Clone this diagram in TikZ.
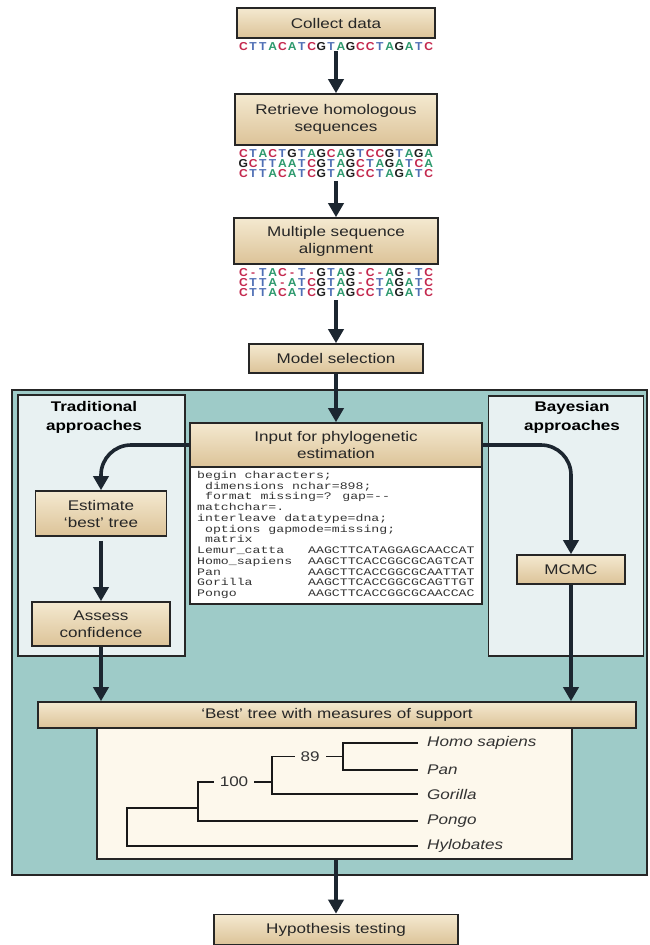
\documentclass[tikz,border=0pt]{standalone}
\usepackage{fontspec}
\usetikzlibrary{arrows.meta}
\newfontfamily\lab[FakeStretch=1.22]{Liberation Sans}
\newfontfamily\dnafont[FakeStretch=1.05]{Liberation Sans}
\newfontfamily\codefont[FakeStretch=1.32]{Liberation Mono}
\definecolor{cA}{HTML}{2E9A6E}
\definecolor{cC}{HTML}{C4284E}
\definecolor{cG}{HTML}{1E1E1E}
\definecolor{cT}{HTML}{4F6FB5}
\definecolor{boxtop}{HTML}{F4E9D0}
\definecolor{boxbot}{HTML}{DCC398}
\definecolor{edge}{HTML}{262626}
\definecolor{teal}{HTML}{9ECBC8}
\definecolor{pale}{HTML}{E8F1F2}
\definecolor{cream}{HTML}{FDF8EC}
\definecolor{arrowc}{HTML}{1C2630}
\makeatletter
\newcommand\dnarow[1]{\dna@loop#1\relax}
\def\dna@loop#1{\ifx#1\relax\else\dna@char#1\expandafter\dna@loop\fi}
\def\dna@char#1{\makebox[9.75pt]{\if#1-\textcolor{cC}{-}\else\textcolor{c#1}{#1}\fi}}
\makeatother
\tikzset{
  stepbox/.style={draw=edge, line width=1.6pt, top color=boxtop, bottom color=boxbot,
    font=\lab\fontsize{14}{17}\selectfont, align=center, inner sep=0pt, text=black!85},
  seqtext/.style={font=\dnafont\bfseries\fontsize{11.5}{10}\selectfont, align=center, inner sep=0pt},
  arr/.style={draw=arrowc, line width=3.6pt, -{Triangle[length=14pt,width=15pt]}},
  panel/.style={draw=edge, line width=1.5pt, fill=pale},
  grp/.style={font=\lab\bfseries\fontsize{14}{19}\selectfont, align=center, inner sep=0pt},
  branch/.style={line width=1.8pt, draw=black!90},
  leaf/.style={font=\lab\itshape\fontsize{14}{17}\selectfont, anchor=west, inner sep=0pt, text=black!80},
  support/.style={font=\lab\fontsize{14}{17}\selectfont, fill=cream, inner xsep=6pt, inner ysep=1pt, text=black!80}
}
\begin{document}
\begin{tikzpicture}[x=1pt,y=-1pt]
\useasboundingbox[fill=white] (0,0) rectangle (649,945);

% top pipeline
\node[stepbox, minimum width=198pt, minimum height=30pt] (collect) at (336,23) {Collect data};
\node[seqtext] (seqa) at (336,47) {\dnarow{CTTACATCGTAGCCTAGATC}};
\node[stepbox, minimum width=202pt, minimum height=51pt] (retrieve) at (336,119.5) {Retrieve homologous\\sequences};
\node[seqtext] (seqb) at (336,164) {\dnarow{CTACTGTAGCAGTCCGTAGA}\\\dnarow{GCTTAATCGTAGCTAGATCA}\\\dnarow{CTTACATCGTAGCCTAGATC}};
\node[stepbox, minimum width=204pt, minimum height=46pt] (msa) at (336,241) {Multiple sequence\\alignment};
\node[seqtext] (seqc) at (336,283) {\dnarow{C-TAC-T-GTAG-C-AG-TC}\\\dnarow{CTTA-ATCGTAG-CTAGATC}\\\dnarow{CTTACATCGTAGCCTAGATC}};
\node[stepbox, minimum width=174pt, minimum height=29pt] (model) at (336,358.5) {Model selection};

% teal panel
\node[draw=edge, line width=1.6pt, fill=teal, minimum width=635pt, minimum height=485pt, inner sep=0pt] (tealpanel) at (329.5,632.5) {};
\node[panel, minimum width=167pt, minimum height=261pt, inner sep=0pt] (trad) at (101.5,525.5) {};
\node[panel, minimum width=155pt, minimum height=260pt, inner sep=0pt] (bayes) at (566,526) {};
\node[grp] (tradlab) at (94,417.5) {Traditional\\approaches};
\node[grp] (bayeslab) at (572,417.5) {Bayesian\\approaches};

\node[stepbox, minimum width=292pt, minimum height=44pt] (inp) at (336,445) {Input for phylogenetic\\estimation};
\node[draw=edge, line width=1.5pt, fill=white, minimum width=292pt, minimum height=137pt, inner sep=0pt] (code) at (336,535.5) {};
\node[font=\codefont\fontsize{10}{10.75}\selectfont, align=left, anchor=north west, inner sep=0pt, text=black!80] (codetext) at (197,471)
{begin characters;\\
\ dimensions nchar=898;\\
\ format missing=? gap=-{}-\\
matchchar=.\\
interleave datatype=dna;\\
\ options gapmode=missing;\\
\ matrix\\
\makebox[111pt][l]{Lemur\_catta}AAGCTTCATAGGAGCAACCAT\\
\makebox[111pt][l]{Homo\_sapiens}AAGCTTCACCGGCGCAGTCAT\\
\makebox[111pt][l]{Pan}AAGCTTCACCGGCGCAATTAT\\
\makebox[111pt][l]{Gorilla}AAGCTTCACCGGCGCAGTTGT\\
\makebox[111pt][l]{Pongo}AAGCTTCACCGGCGCAACCAC};

\node[stepbox, minimum width=131pt, minimum height=45pt] (est) at (101,513.5) {Estimate\\‘best’ tree};
\node[stepbox, minimum width=138pt, minimum height=44pt] (assess) at (101,624) {Assess\\confidence};
\node[stepbox, minimum width=108pt, minimum height=29pt] (mcmc) at (571,569.5) {MCMC};

\node[stepbox, minimum width=598pt, minimum height=26pt] (bar) at (337,715) {‘Best’ tree with measures of support};
\node[draw=edge, line width=1.5pt, fill=cream, minimum width=475pt, minimum height=131pt, inner sep=0pt] (treebox) at (334.5,793.5) {};

\node[stepbox, minimum width=244pt, minimum height=30pt] (hyp) at (336,929.5) {Hypothesis testing};

% arrows
\draw[arr] (seqa.south) -- (retrieve.north);
\draw[arr] (seqb.south) ++(0,3) -- (msa.north);
\draw[arr] (seqc.south) ++(0,3) -- (model.north);
\draw[arr] (model.south) -- (inp.north);
\draw[arr, rounded corners=30pt] (inp.west) -| (est.north);
\draw[arr, rounded corners=30pt] (inp.east) -| (mcmc.north);
\draw[arr] (est.south) ++(0,4) -- (assess.north);
\draw[arr] (assess.south) -- (assess.south |- bar.north);
\draw[arr] (mcmc.south) -- (mcmc.south |- bar.north);
\draw[arr] (treebox.south -| hyp.north) -- (hyp.north);

% tree
\coordinate (hs) at (418,743);
\coordinate (pa) at (418,770);
\coordinate (go) at (418,794);
\coordinate (po) at (418,821);
\coordinate (hy) at (418,846);
\draw[branch] (hs) -- (343,743) -- (343,770) -- (pa);
\draw[branch] (343,756.5) -- (272,756.5) -- (272,794) -- (go);
\draw[branch] (272,782) -- (198,782) -- (198,821) -- (po);
\draw[branch] (198,808) -- (127,808) -- (127,846) -- (hy);
\node[support] (s89) at (310,756.5) {89};
\node[support] (s100) at (234,782) {100};
\node[leaf] (lhs) at (427,743) {Homo sapiens};
\node[leaf] (lpa) at (427,770) {Pan};
\node[leaf] (lgo) at (427,794) {Gorilla};
\node[leaf] (lpo) at (427,821) {Pongo};
\node[leaf] (lhy) at (427,846) {Hylobates};
\end{tikzpicture}
\end{document}
